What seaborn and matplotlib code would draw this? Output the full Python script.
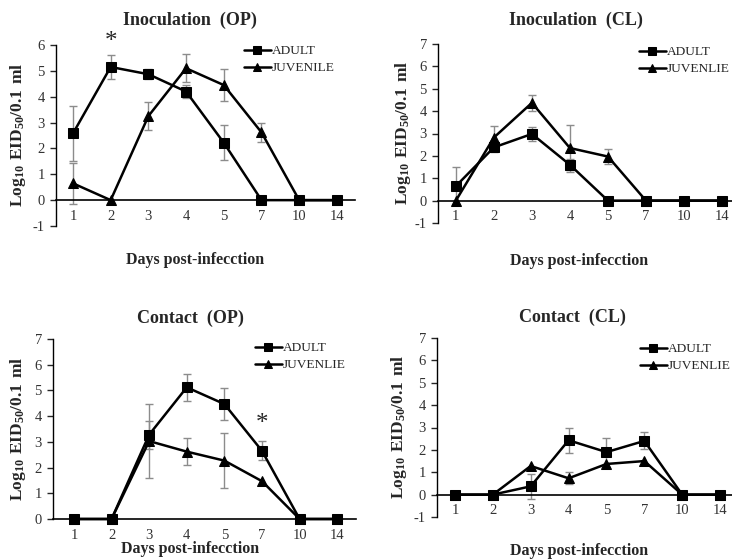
import numpy as np
import pandas as pd
import seaborn as sns
import matplotlib.pyplot as plt
from matplotlib.ticker import FixedLocator

sns.set_style("white")
plt.rcParams["font.family"] = ["Liberation Serif", "DejaVu Serif"]
plt.rcParams["mathtext.fontset"] = "custom"
plt.rcParams["mathtext.rm"] = "Liberation Serif"
plt.rcParams["mathtext.bf"] = "Liberation Serif:bold"
plt.rcParams["axes.unicode_minus"] = False

DAYS = ["1", "2", "3", "4", "5", "7", "10", "14"]

# Inoculation (OP)
INOC_OP_ADULT = [2.58, 5.15, 4.87, 4.2, 2.22, 0, 0, 0]
INOC_OP_ADULT_ERR = [1.05, 0.48, 0.2, 0.25, 0.67, 0, 0, 0]
INOC_OP_JUV = [0.65, 0, 3.25, 5.1, 4.45, 2.62, 0, 0]
INOC_OP_JUV_ERR = [0.8, 0, 0.55, 0.55, 0.63, 0.38, 0, 0]

# Inoculation (CL)
INOC_CL_ADULT = [0.65, 2.38, 2.98, 1.6, 0, 0, 0, 0]
INOC_CL_ADULT_ERR = [0.85, 0.2, 0.33, 0.25, 0, 0, 0, 0]
INOC_CL_JUV = [0, 2.82, 4.37, 2.35, 1.97, 0, 0, 0]
INOC_CL_JUV_ERR = [0, 0.5, 0.35, 1.05, 0.33, 0, 0, 0]

# Contact (OP)
CONT_OP_ADULT = [0, 0, 3.28, 5.12, 4.47, 2.65, 0, 0]
CONT_OP_ADULT_ERR = [0, 0, 0.55, 0.52, 0.63, 0.37, 0, 0]
CONT_OP_JUV = [0, 0, 3.03, 2.62, 2.27, 1.47, 0, 0]
CONT_OP_JUV_ERR = [0, 0, 1.43, 0.53, 1.08, 0, 0, 0]

# Contact (CL)
CONT_CL_ADULT = [0, 0, 0.37, 2.43, 1.9, 2.4, 0, 0]
CONT_CL_ADULT_ERR = [0, 0, 0.57, 0.55, 0.65, 0.38, 0, 0]
CONT_CL_JUV = [0, 0, 1.28, 0.73, 1.37, 1.5, 0, 0]
CONT_CL_JUV_ERR = [0, 0, 0, 0.27, 0, 0, 0, 0]

W, H = 732, 559
YLABEL = r"$\mathbf{Log_{10}\ EID_{50}/0.1\ ml}$"
XLABEL = "Days post-infecction"
ERR_COLOR = "#8c8c8c"


def px_rect(left, right, bottom, top):
    return [left / W, 1 - bottom / H, (right - left) / W, (bottom - top) / H]


def draw_panel(fig, rect, xlim, ylim, adult, adult_err, juv, juv_err,
               juv_name, title, title_xy, xlabel_xy, ylabel_xy, legend_xy):
    ax = fig.add_axes(rect)
    pos = np.arange(len(DAYS))
    df = pd.DataFrame({
        "pos": np.concatenate([pos, pos]),
        "value": adult + juv,
        "group": ["ADULT"] * len(DAYS) + [juv_name] * len(DAYS),
    })

    # error bars first so they sit under the lines
    for vals, errs in [(adult, adult_err), (juv, juv_err)]:
        vals = np.array(vals)
        errs = np.array(errs)
        m = errs > 0
        ax.errorbar(pos[m], vals[m], yerr=errs[m], fmt="none",
                    ecolor=ERR_COLOR, elinewidth=1, capsize=3, zorder=1)

    sns.lineplot(data=df, x="pos", y="value", hue="group", style="group",
                 markers={"ADULT": "s", juv_name: "^"}, dashes=False,
                 palette={"ADULT": "black", juv_name: "black"},
                 markersize=7, linewidth=1.8, markeredgecolor="black",
                 ax=ax, zorder=3, clip_on=False)

    ax.set_xlim(*xlim)
    ax.set_ylim(*ylim)
    ax.set_xlabel("")
    ax.set_ylabel("")
    ax.set_xticks(pos)
    ax.set_xticklabels(DAYS)
    ax.xaxis.set_minor_locator(FixedLocator(np.arange(0.5, 8, 1)))
    ax.tick_params(axis="x", which="major", length=0, pad=7, labelsize=10.5,
                   labelcolor="#333333")
    ax.tick_params(axis="x", which="minor", length=3, width=1, direction="out",
                   color="black")
    ax.set_yticks(range(int(ylim[0]), int(ylim[1]) + 1))
    ax.tick_params(axis="y", length=4, width=1, direction="out", left=True,
                   labelsize=10.5, labelcolor="#333333", pad=4)
    for s in ["top", "right"]:
        ax.spines[s].set_visible(False)
    ax.spines["left"].set_color("black")
    ax.spines["bottom"].set_color("black")
    ax.spines["left"].set_linewidth(1)
    ax.spines["bottom"].set_linewidth(1.2)
    ax.spines["bottom"].set_position(("data", 0))

    handles, labels = ax.get_legend_handles_labels()
    ax.legend(handles, labels, loc="upper left", frameon=False,
              bbox_to_anchor=(legend_xy[0] / W, 1 - legend_xy[1] / H),
              bbox_transform=fig.transFigure, borderpad=0, borderaxespad=0,
              handlelength=2.0, handletextpad=0.1, labelspacing=0.35,
              markerscale=0.75, fontsize=9.6)

    fig.text(title_xy[0] / W, 1 - title_xy[1] / H, title, ha="center",
             va="center", fontsize=13, fontweight="bold")
    fig.text(xlabel_xy[0] / W, 1 - xlabel_xy[1] / H, XLABEL, ha="center",
             va="center", fontsize=11.5, fontweight="bold")
    fig.text(ylabel_xy[0] / W, 1 - ylabel_xy[1] / H, YLABEL, ha="center",
             va="center", rotation=90, fontsize=12.5)
    return ax


fig = plt.figure(figsize=(7.32, 5.59), dpi=100)

ax1 = draw_panel(fig, px_rect(56, 355, 226, 45), (-0.45, 7.48), (-1, 6),
                 INOC_OP_ADULT, INOC_OP_ADULT_ERR, INOC_OP_JUV, INOC_OP_JUV_ERR,
                 "JUVENILE", "Inoculation  (OP)", (190, 20), (195, 260),
                 (18, 135), (244, 45))
ax1.text(1, 6.1, "*", ha="center", va="center", fontsize=18, clip_on=False)

draw_panel(fig, px_rect(438, 741, 223, 44), (-0.47, 7.5), (-1, 7),
           INOC_CL_ADULT, INOC_CL_ADULT_ERR, INOC_CL_JUV, INOC_CL_JUV_ERR,
           "JUVENLIE", "Inoculation  (CL)", (576, 20), (579, 261),
           (403, 133), (639, 46))

ax3 = draw_panel(fig, px_rect(53, 356, 519, 339), (-0.557, 7.5), (0, 7),
                 CONT_OP_ADULT, CONT_OP_ADULT_ERR, CONT_OP_JUV, CONT_OP_JUV_ERR,
                 "JUVENLIE", "Contact  (OP)", (190, 318), (190, 549),
                 (18, 429), (255, 342))
ax3.text(5, 3.7, "*", ha="center", va="center", fontsize=18, clip_on=False)

draw_panel(fig, px_rect(437, 739, 517, 338), (-0.475, 7.5), (-1, 7),
           CONT_CL_ADULT, CONT_CL_ADULT_ERR, CONT_CL_JUV, CONT_CL_JUV_ERR,
           "JUVENLIE", "Contact  (CL)", (572, 317), (579, 551),
           (399, 427), (640, 343))

fig.savefig("out.png", dpi=100)
